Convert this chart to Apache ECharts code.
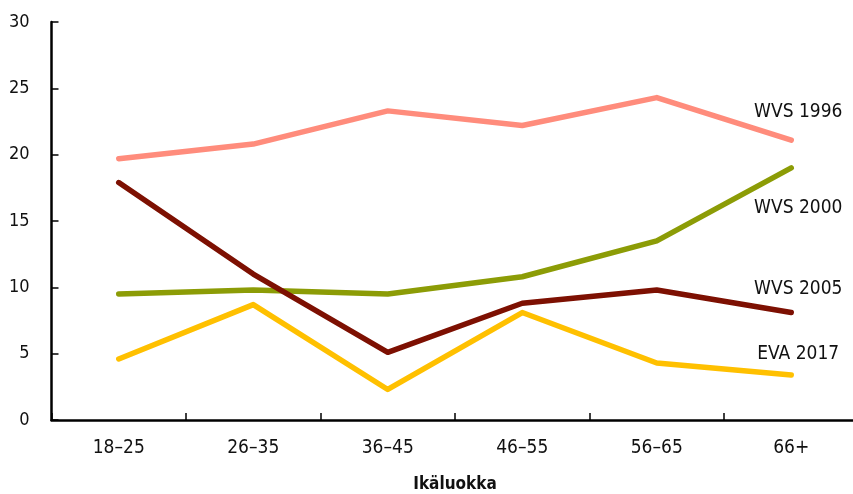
<!DOCTYPE html>
<html>
<head>
<meta charset="utf-8">
<script src="https://cdn.jsdelivr.net/npm/echarts@6/dist/echarts.min.js"></script>
<style>
html,body{margin:0;padding:0;background:#fff;overflow:hidden;}
#c{width:853px;height:494px;}
</style>
</head>
<body>
<div id="c"></div>
<script>
const categories = ['18–25', '26–35', '36–45', '46–55', '56–65', '66+'];
const wvs1996 = [19.7, 20.8, 23.3, 22.2, 24.3, 21.1];
const wvs2000 = [9.5, 9.8, 9.5, 10.8, 13.5, 19.0];
const wvs2005 = [17.9, 11.0, 5.1, 8.8, 9.8, 8.1];
const eva2017 = [4.6, 8.7, 2.3, 8.1, 4.3, 3.4];
const yTicks = [0, 5, 10, 15, 20, 25, 30];
const xName = 'Ikäluokka';

const FONT = "'DejaVu Sans Condensed', 'Liberation Sans Narrow', sans-serif";

function mk(name, data, color, off) {
  return {
    name: name, type: 'line', data: data, symbol: 'none', smooth: false,
    lineStyle: { color: color, width: 5.5, cap: 'round', join: 'round' },
    itemStyle: { color: color },
    endLabel: {
      show: true, formatter: name, color: '#111', fontFamily: FONT, fontSize: 19,
      align: 'center', verticalAlign: 'middle', distance: 0, offset: off
    },
    z: 3
  };
}

const chart = echarts.init(document.getElementById('c'), null, { renderer: 'canvas', width: 853, height: 494 });
chart.setOption({
  animation: false,
  backgroundColor: '#fff',
  grid: { left: 51.5, right: -5.5, top: 22, bottom: 74, containLabel: false, outerBoundsMode: 'none' },
  xAxis: {
    type: 'category', data: categories, boundaryGap: true,
    name: xName, nameLocation: 'middle', nameGap: 56,
    nameTextStyle: { fontFamily: FONT, fontSize: 17, fontWeight: 'bold', color: '#111' },
    axisLine: { lineStyle: { color: '#000', width: 2.5 } },
    axisTick: { show: true, inside: true, length: 7, lineStyle: { color: '#000', width: 1.5 } },
    axisLabel: { fontFamily: FONT, fontSize: 19, color: '#111', margin: 19 },
    splitLine: { show: false }
  },
  yAxis: {
    type: 'value', min: 0, max: 30, interval: 5,
    axisLine: { show: true, lineStyle: { color: '#000', width: 2.5 } },
    axisTick: { show: true, inside: true, length: 7, lineStyle: { color: '#000', width: 1.5 } },
    axisLabel: { fontFamily: FONT, fontSize: 18, color: '#111', margin: 22,
      formatter: function (v) { return yTicks.indexOf(v) >= 0 ? String(v) : ''; } },
    splitLine: { show: false }
  },
  series: [
    mk('WVS 1996', wvs1996, '#FF8C7C', [7, -28]),
    mk('WVS 2000', wvs2000, '#8C9C06', [7, 40]),
    mk('WVS 2005', wvs2005, '#7D1002', [7, -23]),
    mk('EVA 2017', eva2017, '#FFC000', [7, -21])
  ]
});
</script>
</body>
</html>
